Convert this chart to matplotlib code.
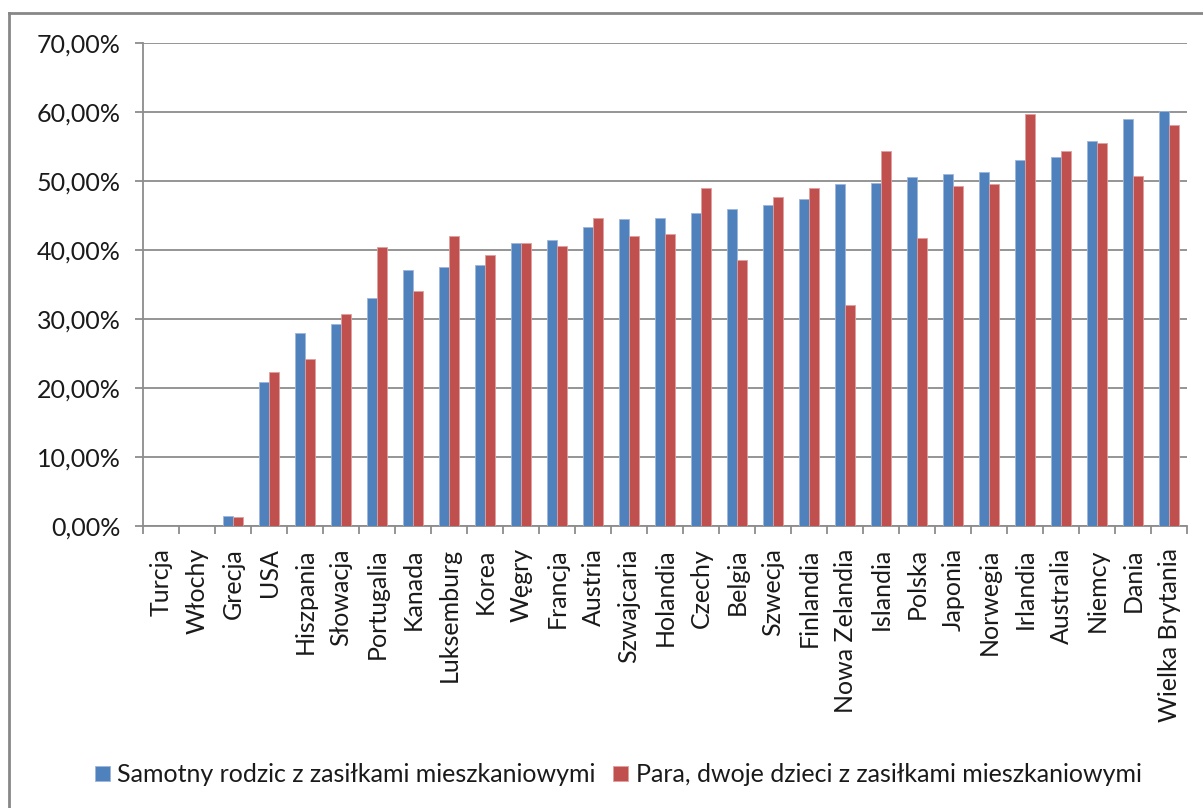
import numpy as np
import matplotlib
matplotlib.use("Agg")
import matplotlib.pyplot as plt
from matplotlib.ticker import FuncFormatter, MultipleLocator
from matplotlib.lines import Line2D

plt.rcParams['font.family'] = ['Lato', 'DejaVu Sans']

# Data (share of income, %)
countries = ['Turcja', 'Włochy', 'Grecja', 'USA', 'Hiszpania', 'Słowacja', 'Portugalia',
             'Kanada', 'Luksemburg', 'Korea', 'Węgry', 'Francja', 'Austria', 'Szwajcaria',
             'Holandia', 'Czechy', 'Belgia', 'Szwecja', 'Finlandia', 'Nowa Zelandia',
             'Islandia', 'Polska', 'Japonia', 'Norwegia', 'Irlandia', 'Australia',
             'Niemcy', 'Dania', 'Wielka Brytania']
single_parent = [np.nan, np.nan, 1.45, 20.9, 28.0, 29.3, 33.0,
                 37.1, 37.6, 37.8, 41.0, 41.5, 43.3, 44.45,
                 44.6, 45.4, 45.9, 46.5, 47.4, 49.5,
                 49.65, 50.6, 50.95, 51.3, 53.1, 53.5,
                 55.75, 58.95, 60.2]
couple_two_kids = [np.nan, np.nan, 1.25, 22.35, 24.25, 30.75, 40.4,
                   34.05, 42.1, 39.3, 41.0, 40.55, 44.6, 42.0,
                   42.25, 48.95, 38.5, 47.65, 48.95, 32.0,
                   54.4, 41.7, 49.3, 49.5, 59.65, 54.3,
                   55.45, 50.75, 58.05]

label_single = 'Samotny rodzic z zasiłkami mieszkaniowymi'
label_couple = 'Para, dwoje dzieci z zasiłkami mieszkaniowymi'

blue = '#4F81BD'
red = '#C0504D'
grid_gray = '#8C8C8C'
text_color = '#1A1A1A'
fs = 18

fig = plt.figure(figsize=(12.03, 8.08), dpi=100)
ax = fig.add_axes([0.1189, 0.349, 0.8678, 0.5978])

x = np.arange(len(countries))
w = 0.29
ax.bar(x - w / 2, single_parent, width=w, color=blue, edgecolor='#9DB6DA',
       linewidth=0.6, label=label_single, zorder=3)
ax.bar(x + w / 2, couple_two_kids, width=w, color=red, edgecolor='#DFA09E',
       linewidth=0.6, label=label_couple, zorder=3)

# Axes limits and grid
ax.set_xlim(-0.5, len(countries) - 0.5)
ax.set_ylim(0, 70)
ax.yaxis.set_major_locator(MultipleLocator(10))
ax.yaxis.set_major_formatter(FuncFormatter(lambda v, p: f'{v:.2f}%'.replace('.', ',')))
ax.yaxis.grid(True, color=grid_gray, linewidth=1.3, zorder=0)
ax.set_axisbelow(True)

for side in ['top', 'right']:
    ax.spines[side].set_visible(False)
for side in ['left', 'bottom']:
    ax.spines[side].set_color(grid_gray)
    ax.spines[side].set_linewidth(1.3)

# Category labels at centres, tick marks at the boundaries
ax.set_xticks(x)
ax.set_xticklabels(countries, rotation=90, fontsize=fs, color=text_color)
ax.set_xticks(np.arange(len(countries) + 1) - 0.5, minor=True)
ax.tick_params(axis='x', which='major', length=0, pad=16)
ax.tick_params(axis='x', which='minor', length=6, width=1.3, color=grid_gray)
ax.tick_params(axis='y', length=6, width=1.3, color=grid_gray, pad=10,
               labelsize=fs, labelcolor=text_color)

# Legend below the plot
fig.legend(loc='center', bbox_to_anchor=(0.514, 0.041), ncol=2, frameon=False,
           fontsize=fs, handlelength=0.6, handleheight=0.6, handletextpad=0.3,
           columnspacing=0.7, labelcolor=text_color)

# Chart frame (top and left edges)
fig.add_artist(Line2D([9 / 1203, 1.0], [1 - 13 / 808, 1 - 13 / 808],
                      transform=fig.transFigure, color='#878787', linewidth=2))
fig.add_artist(Line2D([9 / 1203, 9 / 1203], [0.0, 1 - 13 / 808],
                      transform=fig.transFigure, color='#878787', linewidth=2))

fig.savefig('out.png', dpi=100)
